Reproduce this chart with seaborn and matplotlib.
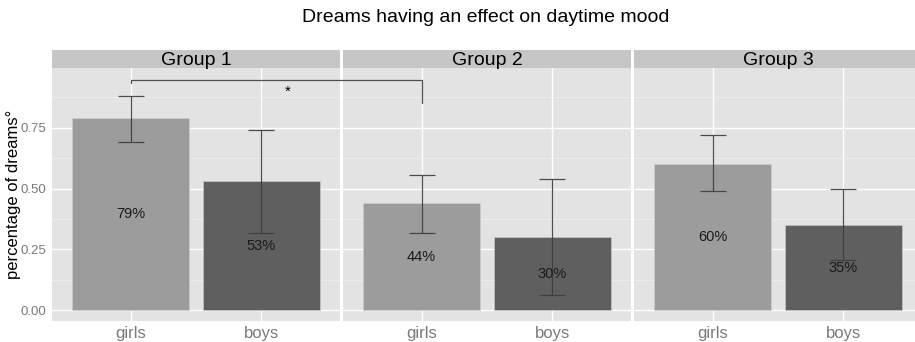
import numpy as np
import pandas as pd
import matplotlib
matplotlib.use("Agg")
import matplotlib.pyplot as plt
from matplotlib.lines import Line2D
import seaborn as sns

# --- data -------------------------------------------------------------
groups = ["Group 1", "Group 2", "Group 3"]
sexes = ["girls", "boys"]
share = [[0.79, 0.53], [0.44, 0.30], [0.60, 0.35]]
ci_low = [[0.69, 0.316], [0.317, 0.061], [0.489, 0.204]]
ci_high = [[0.882, 0.74], [0.557, 0.54], [0.72, 0.499]]
labels = [["79%", "53%"], ["44%", "30%"], ["60%", "35%"]]
yticks = [0.00, 0.25, 0.50, 0.75]
ytick_labels = ["0.00", "0.25", "0.50", "0.75"]

rows = []
for g, grp in enumerate(groups):
    for s, sex in enumerate(sexes):
        rows.append(dict(group=grp, sex=sex, share=share[g][s],
                         lo=ci_low[g][s], hi=ci_high[g][s], label=labels[g][s]))
df = pd.DataFrame(rows)

# --- style ------------------------------------------------------------
sns.set_theme(style="darkgrid")
plt.rcParams["font.family"] = ["Liberation Sans", "DejaVu Sans"]

panel_bg = "#e3e3e3"
strip_bg = "#c6c6c6"
bar_colors = {"girls": "#9c9c9c", "boys": "#5f5f5f"}
tick_color = "#7a7a7a"

W, H = 915, 342
fig = plt.figure(figsize=(W / 100, H / 100), dpi=100)

panel_w = 288
lefts = [52, 343, 634]
bottom_px, top_px = 321, 68
strip_top = 50

ymin, ymax = -0.045, 0.996
axes = []
for g, grp in enumerate(groups):
    ax = fig.add_axes([lefts[g] / W, 1 - bottom_px / H,
                       panel_w / W, (bottom_px - top_px) / H])
    sub = df[df.group == grp]
    sns.barplot(data=sub, x="sex", y="share", hue="sex", order=sexes,
                palette=bar_colors, width=0.9, ax=ax, legend=False,
                edgecolor="#d0d0d0", linewidth=0.4, errorbar=None)
    xs = np.arange(len(sexes))
    ax.errorbar(xs, sub.share.values,
                yerr=[sub.share.values - sub.lo.values, sub.hi.values - sub.share.values],
                fmt="none", ecolor="#3c3c3c", elinewidth=0.9, capsize=9.4,
                capthick=0.9, alpha=0.9, zorder=5)
    for x, v, t in zip(xs, sub.share.values, sub.label.values):
        ax.text(x, v / 2, t, ha="center", va="center", fontsize=10.5,
                color="#1a1a1a", zorder=6)

    ax.set_facecolor(panel_bg)
    ax.set_xlim(-0.6, 1.6)
    ax.set_ylim(ymin, ymax)
    ax.set_yticks(yticks)
    ax.set_yticks([0.125, 0.375, 0.625, 0.875], minor=True)
    ax.grid(True, which="major", color="white", linewidth=1.0)
    ax.grid(True, which="minor", axis="y", color="#f0f0f0", linewidth=0.5)
    ax.set_axisbelow(True)
    for sp in ax.spines.values():
        sp.set_visible(False)
    ax.set_xlabel("")
    ax.set_ylabel("")
    ax.tick_params(axis="x", colors=tick_color, labelsize=12, length=3,
                   width=0.6, pad=0.5)
    ax.tick_params(axis="y", which="major", colors=tick_color, labelsize=9.5,
                   length=3, width=0.6, pad=1)
    ax.tick_params(axis="y", which="minor", length=0)
    if g == 0:
        ax.set_yticklabels(ytick_labels)
        ax.set_ylabel("percentage of dreams°", fontsize=12, color="black",
                      labelpad=0)
    else:
        ax.tick_params(axis="y", which="major", labelleft=False, length=0)

    # facet strip
    sax = fig.add_axes([lefts[g] / W, 1 - top_px / H,
                        panel_w / W, (top_px - strip_top) / H])
    sax.set_facecolor(strip_bg)
    sax.set_xticks([])
    sax.set_yticks([])
    for sp in sax.spines.values():
        sp.set_visible(False)
    sax.text(0.5, 0.42, grp, ha="center", va="center", fontsize=14,
             color="black", transform=sax.transAxes)
    axes.append(ax)

# significance bracket between Group 1 girls and Group 2 girls
to_fig = fig.transFigure.inverted()
bracket_y = 0.946
p_left_top = to_fig.transform(axes[0].transData.transform((0, bracket_y)))
p_left_bot = to_fig.transform(axes[0].transData.transform((0, 0.934)))
p_right_top = to_fig.transform(axes[1].transData.transform((0, bracket_y)))
p_right_bot = to_fig.transform(axes[1].transData.transform((0, 0.852)))
fig.add_artist(Line2D([p_left_bot[0], p_left_top[0], p_right_top[0], p_right_bot[0]],
                      [p_left_bot[1], p_left_top[1], p_right_top[1], p_right_bot[1]],
                      color="#505050", linewidth=0.9, transform=fig.transFigure))
axes[0].text(1.2, 0.9, "*", ha="center", va="center", fontsize=11,
             color="black", zorder=6)

fig.text(486 / W, 1 - 18 / H, "Dreams having an effect on daytime mood",
         ha="center", va="center", fontsize=14, color="black")

fig.savefig("out.png", dpi=100, facecolor="white")
